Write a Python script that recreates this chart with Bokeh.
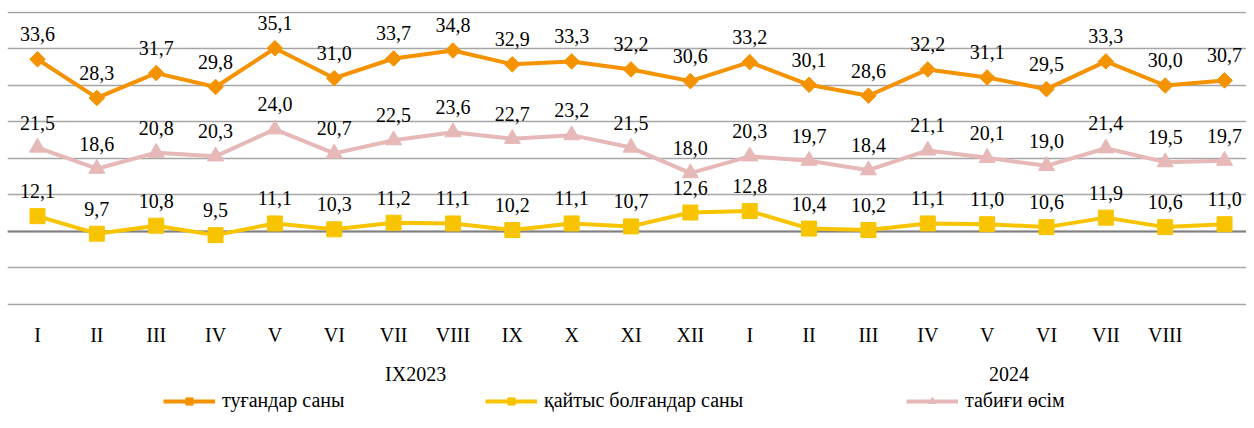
from bokeh.plotting import figure
from bokeh.models import (Range1d, FixedTicker, Legend, LegendItem,
                          ColumnDataSource, Span, Grid)
from bokeh.core.properties import value
from bokeh.embed import file_html
from bokeh.resources import INLINE
import math

months = ["I", "II", "III", "IV", "V", "VI", "VII", "VIII", "IX", "X", "XI", "XII",
          "I", "II", "III", "IV", "V", "VI", "VII", "VIII"]
groups = ["IX2023", "2024"]
group_pos = [6.37, 16.37]

births = [33.6, 28.3, 31.7, 29.8, 35.1, 31.0, 33.7, 34.8, 32.9, 33.3, 32.2, 30.6,
          33.2, 30.1, 28.6, 32.2, 31.1, 29.5, 33.3, 30.0, 30.7]
deaths = [12.1, 9.7, 10.8, 9.5, 11.1, 10.3, 11.2, 11.1, 10.2, 11.1, 10.7, 12.6,
          12.8, 10.4, 10.2, 11.1, 11.0, 10.6, 11.9, 10.6, 11.0]
growth = [21.5, 18.6, 20.8, 20.3, 24.0, 20.7, 22.5, 23.6, 22.7, 23.2, 21.5, 18.0,
          20.3, 19.7, 18.4, 21.1, 20.1, 19.0, 21.4, 19.5, 19.7]

names = ["туғандар саны", "қайтыс болғандар саны", "табиғи өсім"]
colors = ["#F59200", "#F8C400", "#E6B8B7"]

FONT = value("Liberation Serif")

p = figure(width=1246, height=412, output_backend="svg", toolbar_location=None,
           x_axis_location=None, y_axis_location=None,
           x_range=Range1d(-0.5055, 20.37), y_range=Range1d(-14.795, 40.137),
           min_border_left=7, min_border_right=0, min_border_top=11,
           min_border_bottom=0, outline_line_color=None)
p.center = [r for r in p.center if not isinstance(r, Grid)]

p.add_layout(Grid(dimension=1, ticker=FixedTicker(ticks=list(range(0, 45, 5))),
                  grid_line_color="#A6A6A6", grid_line_width=1.3))
p.add_layout(Span(location=10, dimension="width", line_color="#808080",
                  line_width=2, level="underlay"))

xs = list(range(len(births)))
series = [births, deaths, growth]
markers = [("square", 11, math.pi / 4), ("square", 15, 0), ("triangle", 16, 0)]

renderers = []
for vals, col, (mk, sz, ang) in zip(series, colors, markers):
    src = ColumnDataSource(dict(x=xs, y=vals,
                                lab=[f"{v:.1f}".replace(".", ",") for v in vals]))
    l = p.line("x", "y", source=src, line_color=col, line_width=4)
    s = p.scatter("x", "y", source=src, marker=mk, size=sz, angle=ang,
                  fill_color=col, line_color=col)
    p.text("x", "y", text="lab", source=src, text_font=FONT, text_font_size="20px",
           text_color="#000000", text_align="center", text_baseline="alphabetic",
           y_offset=-25)
    renderers.append([l, s])

# category labels (month row and year row) placed under the zero line
msrc = ColumnDataSource(dict(x=list(range(len(months))), y=[0] * len(months), t=months))
p.text("x", "y", text="t", source=msrc, text_font=FONT, text_font_size="20px",
       text_color="#000000", text_align="center", text_baseline="alphabetic",
       y_offset=31)
gsrc = ColumnDataSource(dict(x=group_pos, y=[0] * len(groups), t=groups))
p.text("x", "y", text="t", source=gsrc, text_font=FONT, text_font_size="20px",
       text_color="#000000", text_align="center", text_baseline="alphabetic",
       y_offset=70)

leg_x = [156, 478, 899]
for name, rs, lx in zip(names, renderers, leg_x):
    lg = Legend(items=[LegendItem(label=name, renderers=rs)], location=(lx, 0),
                orientation="horizontal", glyph_width=52, glyph_height=18,
                label_standoff=7, padding=0, margin=0, border_line_color=None,
                background_fill_alpha=0, label_text_font="Liberation Serif",
                label_text_font_size="20px", label_text_color="#000000",
                label_height=18)
    p.add_layout(lg)

open("out.html", "w").write(file_html(p, INLINE))
